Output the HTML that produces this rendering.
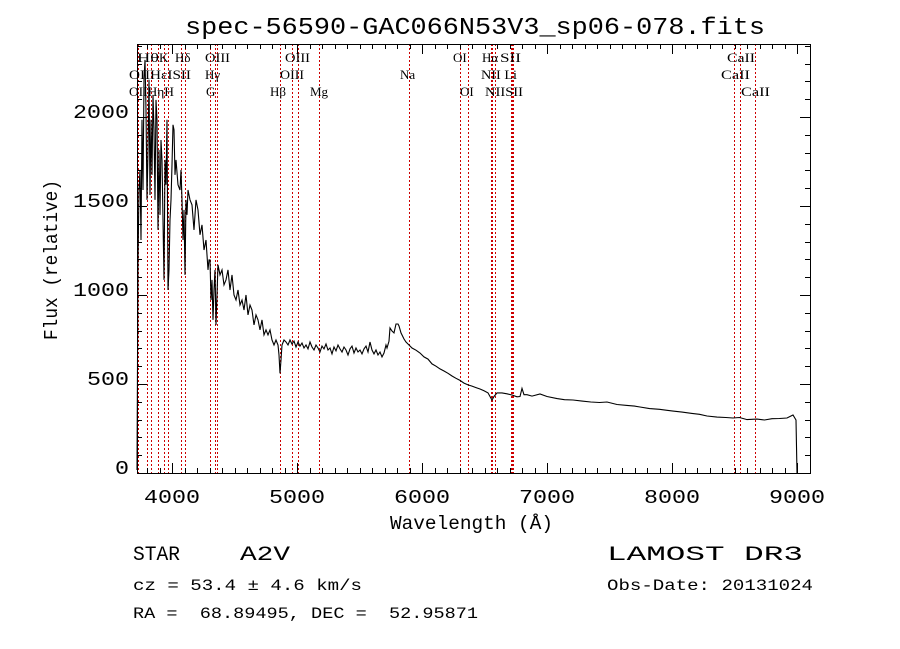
<!DOCTYPE html>
<html><head><meta charset="utf-8"><style>
body{margin:0;background:#fff;}
svg{display:block;}
text{font-family:"Liberation Sans","DejaVu Sans",sans-serif;fill:#000;white-space:pre;}
.lab{font-family:"Liberation Serif","DejaVu Serif",serif;font-size:13px;}
.mono{font-family:"Liberation Mono","DejaVu Sans Mono",monospace;}
</style></head><body>
<svg id="chart" width="900" height="649" viewBox="0 0 900 649" xmlns="http://www.w3.org/2000/svg" xml:space="preserve">
<rect width="900" height="649" fill="#fff"/>
<text class="mono" x="185" y="34" font-size="24" textLength="580" lengthAdjust="spacingAndGlyphs">spec-56590-GAC066N53V3_sp06-078.fits</text>
<g id="lines"></g>
<g id="spec"></g>
<g id="axes"></g>
<g>
<text class="lab" x="137" y="62" textLength="22" lengthAdjust="spacingAndGlyphs">Hθ</text>
<text class="lab" x="159" y="62">K</text>
<text class="lab" x="175" y="62">Hδ</text>
<text class="lab" x="205" y="62" textLength="25" lengthAdjust="spacingAndGlyphs">OIII</text>
<text class="lab" x="285" y="62" textLength="25" lengthAdjust="spacingAndGlyphs">OIII</text>
<text class="lab" x="453" y="62">OI</text>
<text class="lab" x="482" y="62">Hα</text>
<text class="lab" x="500" y="62" textLength="21" lengthAdjust="spacingAndGlyphs">SII</text>
<text class="lab" x="727" y="62" textLength="28" lengthAdjust="spacingAndGlyphs">CaII</text>
<text class="lab" x="129" y="79" textLength="62" lengthAdjust="spacingAndGlyphs">OIIHεISII</text>
<text class="lab" x="205" y="79">Hγ</text>
<text class="lab" x="280" y="79" textLength="24" lengthAdjust="spacingAndGlyphs">OIII</text>
<text class="lab" x="400" y="79">Na</text>
<text class="lab" x="481" y="79" textLength="36" lengthAdjust="spacingAndGlyphs">NII Li</text>
<text class="lab" x="721" y="79" textLength="29" lengthAdjust="spacingAndGlyphs">CaII</text>
<text class="lab" x="129" y="96" textLength="45" lengthAdjust="spacingAndGlyphs">OIIHηH</text>
<text class="lab" x="206" y="96">G</text>
<text class="lab" x="270" y="96">Hβ</text>
<text class="lab" x="310" y="96">Mg</text>
<text class="lab" x="460" y="96">OI</text>
<text class="lab" x="485" y="96" textLength="38" lengthAdjust="spacingAndGlyphs">NIISII</text>
<text class="lab" x="741" y="96" textLength="29" lengthAdjust="spacingAndGlyphs">CaII</text>
</g>
<text class="mono" x="390" y="529" font-size="19" textLength="163" lengthAdjust="spacingAndGlyphs">Wavelength (Å)</text>
<text class="mono" font-size="19" transform="translate(57,340) rotate(-90)" textLength="160" lengthAdjust="spacingAndGlyphs">Flux (relative)</text>
<text class="mono" x="133" y="560" font-size="20" textLength="47" lengthAdjust="spacingAndGlyphs">STAR</text>
<text class="mono" x="240" y="560" font-size="20" textLength="50" lengthAdjust="spacingAndGlyphs">A2V</text>
<text class="mono" x="133" y="590" font-size="16" textLength="229" lengthAdjust="spacingAndGlyphs">cz = 53.4 ± 4.6 km/s</text>
<text class="mono" x="133" y="618" font-size="16" textLength="345" lengthAdjust="spacingAndGlyphs">RA =  68.89495, DEC =  52.95871</text>
<text class="mono" x="607" y="560" font-size="20" textLength="196" lengthAdjust="spacingAndGlyphs">LAMOST DR3</text>
<text class="mono" x="607" y="590" font-size="16" textLength="206" lengthAdjust="spacingAndGlyphs">Obs-Date: 20131024</text>
</svg>
<script>
const wavelengths=[3720,3728,3736,3744,3752,3760,3768,3776,3784,3792,3800,3808,3816,3824,3832,3840,3848,3856,3864,3872,3880,3888,3896,3904,3912,3920,3928,3936,3944,3952,3960,3968,3976,3984,3992,4000,4008,4016,4024,4032,4048,4064,4072,4080,4088,4096,4104,4112,4120,4128,4144,4160,4176,4192,4208,4224,4240,4256,4272,4288,4296,4304,4312,4320,4328,4336,4344,4352,4360,4368,4384,4400,4416,4432,4448,4464,4480,4496,4512,4528,4544,4560,4576,4592,4608,4624,4640,4656,4672,4688,4704,4720,4736,4752,4768,4784,4800,4816,4832,4848,4856,4864,4872,4880,4896,4912,4928,4944,4960,4976,4992,5008,5024,5040,5056,5072,5088,5104,5120,5136,5152,5168,5184,5200,5216,5232,5248,5264,5280,5296,5312,5328,5344,5360,5376,5392,5408,5424,5440,5456,5472,5488,5504,5520,5536,5552,5568,5584,5600,5616,5632,5648,5664,5680,5696,5712,5720,5736,5744,5760,5776,5792,5808,5816,5832,5856,5872,5888,5920,5952,5984,6016,6048,6080,6112,6144,6176,6208,6240,6272,6304,6336,6368,6400,6432,6464,6496,6528,6544,6560,6576,6600,6640,6680,6720,6760,6784,6800,6816,6840,6880,6944,7000,7080,7140,7208,7280,7350,7420,7480,7560,7640,7700,7744,7820,7900,7960,8008,8080,8160,8220,8280,8360,8430,8488,8540,8600,8680,8740,8800,8860,8920,8968,8992,9000];
const fluxes=[17,1197,1590,1703,1309,1984,1590,2209,2321,2040,1534,1815,2209,1562,1984,1675,2124,1928,1534,2096,1984,1366,1815,1450,1871,1759,1422,1085,1759,1619,1984,1028,1141,1422,1534,1731,1956,1928,1675,1759,1619,1590,1703,1534,1309,1478,1113,1534,1450,1590,1534,1506,1366,1534,1478,1338,1394,1253,1309,1141,1197,1197,972,1085,860,1028,1141,832,1000,1169,1113,1141,1057,1085,1141,1028,1113,1000,972,1028,944,972,916,1000,888,944,916,832,888,860,804,860,776,804,776,804,747,719,747,719,663,560,635,719,747,736,719,747,725,741,708,736,713,730,702,719,697,736,708,691,719,702,680,713,697,725,691,702,669,708,686,719,697,680,708,691,663,697,713,674,702,680,691,669,697,713,680,736,691,669,691,663,680,652,674,719,702,741,815,798,787,837,837,826,787,753,736,725,702,690,674,652,640,613,600,585,573,560,545,532,520,505,495,488,480,472,462,450,430,410,430,450,450,445,438,428,430,475,440,440,432,444,430,418,412,410,404,399,396,399,385,380,376,371,362,358,352,348,342,335,330,320,314,312,309,312,300,303,298,305,306,309,326,298,0];
const lineWavelengths=[3727,3798,3835,3889,3934,3968,4072,4102,4304,4340,4363,4861,4959,5007,5175,5893,6300,6364,6548,6563,6583,6708,6716,6731,8498,8542,8662];
const xTicks=[4000,5000,6000,7000,8000,9000];
const yTicks=[0,500,1000,1500,2000];
const L=137,R=810,T=44,B=473;
const xs=w=>172+(w-4000)*0.125;
const ys=f=>473-f*0.178;
const NS='http://www.w3.org/2000/svg';
function mk(tag,attrs,parent){const e=document.createElementNS(NS,tag);for(const k in attrs)e.setAttribute(k,attrs[k]);parent.appendChild(e);return e;}
const gl=document.getElementById('lines');
lineWavelengths.forEach(w=>{
 const x=Math.round(xs(w))+0.5;
 const l=mk('line',{x1:x,x2:x,y1:T,y2:B,stroke:'#cc0000','stroke-width':1,'stroke-dasharray':'2,2','shape-rendering':'crispEdges'},gl);
 
 
});
const gs=document.getElementById('spec');
let d='';
wavelengths.forEach((w,i)=>{d+=(i?'L':'M')+xs(w).toFixed(1)+','+ys(fluxes[i]).toFixed(1);});
const p=mk('path',{d:d,fill:'none',stroke:'#000','stroke-width':1.1},gs);


const ga=document.getElementById('axes');
const fr=mk('rect',{x:L+0.5,y:T+0.5,width:R-L,height:B-T,fill:'none',stroke:'#000','stroke-width':1,'shape-rendering':'crispEdges'},ga);


let td='';
for(let w=3800;w<=9100;w+=100){const x=Math.round(xs(w))+0.5;if(x<L||x>R)continue;const len=(w%1000===0)?10:5;td+=`M${x},${B}v${-len}M${x},${T}v${len}`;}
for(let f=0;f<=2400;f+=100){const y=Math.round(ys(f))+0.5;if(y<T)continue;const len=(f%500===0)?10:5;td+=`M${L},${y}h${len}M${R},${y}h${-len}`;}
const tk=mk('path',{d:td,stroke:'#000','stroke-width':1,fill:'none','shape-rendering':'crispEdges'},ga);


xTicks.forEach(w=>{
 const t=mk('text',{x:xs(w),y:503,'font-size':19,'text-anchor':'middle',class:'mono',textLength:56,lengthAdjust:'spacingAndGlyphs'},ga);
 t.textContent=w;
 
 
});
yTicks.forEach(f=>{
 const s=String(f);
 const t=mk('text',{x:129,y:ys(f)+1,'font-size':19,'text-anchor':'end',class:'mono',textLength:14*s.length,lengthAdjust:'spacingAndGlyphs'},ga);
 t.textContent=s;
 
 
});
</script>
</body></html>
